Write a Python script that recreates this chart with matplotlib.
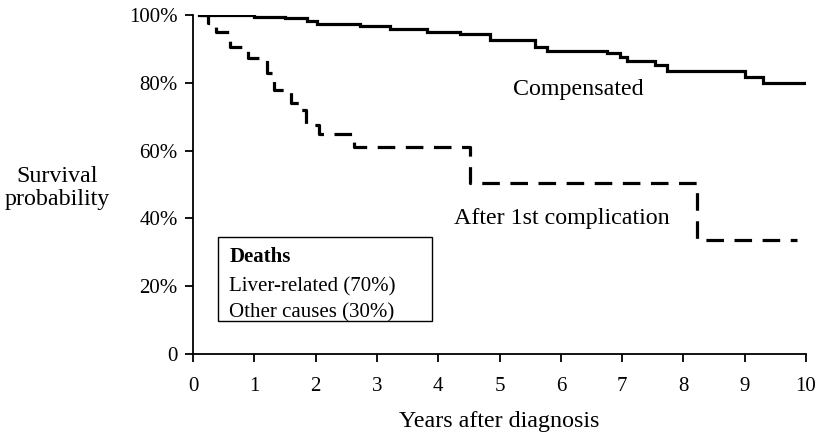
import matplotlib
matplotlib.use('Agg')
import matplotlib.pyplot as plt
from matplotlib.patches import Rectangle

# Kaplan-Meier style step data (years, % surviving)
comp_years = [0.1, 1.0, 1.5, 1.86, 2.02, 2.72, 3.21, 3.82, 4.36, 4.85,
              5.58, 5.77, 6.75, 6.97, 7.08, 7.54, 7.73, 9.0, 9.3, 10.0]
comp_surv = [100, 99.5, 99, 98.3, 97.3, 96.8, 95.8, 94.9, 94.4, 92.6,
             90.6, 89.5, 88.7, 87.5, 86.4, 85.3, 83.6, 81.8, 79.8, 79.8]

compl_years = [0.12, 0.25, 0.38, 0.6, 0.9, 1.2, 1.32, 1.6, 1.75, 1.85,
               2.05, 2.62, 4.52, 8.22, 9.85]
compl_surv = [100, 97.5, 95, 90.5, 87.3, 83, 78, 74, 72, 67.5,
              65, 61, 50.3, 33.5, 33.5]

x_ticks = list(range(0, 11))
y_ticks = [0, 20, 40, 60, 80, 100]
y_labels = ['0', '20%', '40%', '60%', '80%', '100%']
legend_title = 'Deaths'
legend_rows = ['Liver-related (70%)', 'Other causes (30%)']

plt.rcParams['font.family'] = ['Liberation Serif', 'DejaVu Serif']
FS = 15
BIG = 17.3

fig = plt.figure(figsize=(8.24, 4.33), dpi=100)
ax = fig.add_axes([0.2342, 0.1824, 0.744, 0.783])

ax.step(comp_years, comp_surv, where='post', color='black', lw=2.3,
        solid_joinstyle='miter')
ax.step(compl_years, compl_surv, where='post', color='black', lw=2.3,
        linestyle=(0, (5.5, 3.3)))

ax.set_xlim(0, 10)
ax.set_ylim(0, 100)
ax.set_xticks(x_ticks)
ax.set_yticks(y_ticks)
ax.set_yticklabels(y_labels)
ax.tick_params(axis='both', direction='out', length=6, width=1.3,
               labelsize=FS, colors='black')
ax.tick_params(axis='x', pad=10.5)
ax.tick_params(axis='y', pad=5)
for s in ['top', 'right']:
    ax.spines[s].set_visible(False)
for s in ['left', 'bottom']:
    ax.spines[s].set_linewidth(1.3)

ax.set_xlabel('Years after diagnosis', fontsize=BIG, labelpad=10.5)
fig.text(0.069, 0.566, 'Survival\nprobability', ha='center', va='center',
         fontsize=BIG, linespacing=1.15)

ax.text(5.22, 77.9, 'Compensated', fontsize=BIG, va='center', ha='left')
ax.text(4.26, 40.1, 'After 1st complication', fontsize=BIG,
        va='center', ha='left')

ax.add_patch(Rectangle((0.41, 9.7), 3.49, 24.8, fill=False,
                       edgecolor='black', lw=1.0))
ax.text(0.59, 28.6, legend_title, fontsize=FS, fontweight='bold',
        va='center', ha='left')
ax.text(0.59, 19.8, legend_rows[0], fontsize=FS, va='center', ha='left')
ax.text(0.59, 12.1, legend_rows[1], fontsize=FS, va='center', ha='left')

fig.savefig('out.png', dpi=100)
